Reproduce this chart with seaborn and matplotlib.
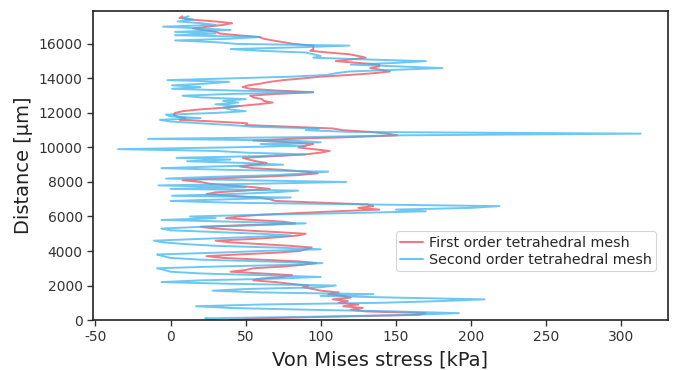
import matplotlib
matplotlib.use("Agg")
import matplotlib.pyplot as plt
import seaborn as sns
import pandas as pd

distance = [
    0, 100, 200, 300, 400, 500, 600, 700, 800, 900,
    1000, 1100, 1200, 1300, 1400, 1500, 1600, 1700, 1800, 1900,
    2000, 2100, 2200, 2300, 2400, 2500, 2600, 2700, 2800, 2900,
    3000, 3100, 3200, 3300, 3400, 3500, 3600, 3700, 3800, 3900,
    4000, 4100, 4200, 4300, 4400, 4500, 4600, 4700, 4800, 4900,
    5000, 5100, 5200, 5300, 5400, 5500, 5600, 5700, 5800, 5900,
    6000, 6100, 6200, 6300, 6400, 6500, 6600, 6700, 6800, 6900,
    7000, 7100, 7200, 7300, 7400, 7500, 7600, 7700, 7800, 7900,
    8000, 8100, 8200, 8300, 8400, 8500, 8600, 8700, 8800, 8900,
    9000, 9100, 9200, 9300, 9400, 9500, 9600, 9700, 9800, 9900,
    10000, 10100, 10200, 10300, 10400, 10500, 10600, 10700, 10800, 10900,
    11000, 11100, 11200, 11300, 11400, 11500, 11600, 11700, 11800, 11900,
    12000, 12100, 12200, 12300, 12400, 12500, 12600, 12700, 12800, 12900,
    13000, 13100, 13200, 13300, 13400, 13500, 13600, 13700, 13800, 13900,
    14000, 14100, 14200, 14300, 14400, 14500, 14600, 14700, 14800, 14900,
    15000, 15100, 15200, 15300, 15400, 15500, 15600, 15700, 15800, 15900,
    16000, 16100, 16200, 16300, 16400, 16500, 16600, 16700, 16800, 16900,
    17000, 17100, 17200, 17300, 17400, 17500, 17600,
]

first_order = [
    39, 60, 110, 165, 170, 130, 120, 128, 115, 125,
    112, 118, 108, 120, 115, 105, 112, 100, 95, 88,
    92, 80, 70, 55, 60, 75, 81, 60, 40, 50,
    55, 75, 88, 97, 85, 60, 35, 24, 45, 70,
    86, 90, 94, 80, 60, 40, 30, 55, 72, 85,
    90, 70, 48, 30, 20, 50, 83, 75, 55, 37,
    45, 60, 85, 110, 139, 125, 135, 131, 100, 70,
    66, 58, 40, 24, 30, 50, 66, 55, 40, 26,
    20, 8, 30, 60, 85, 98, 90, 75, 55, 46,
    55, 64, 57, 52, 48, 70, 90, 100, 106, 95,
    85, 90, 95, 80, 55, 80, 120, 151, 145, 133,
    115, 108, 80, 50, 51, 30, 6, 10, 4, 2,
    3, 8, 19, 35, 46, 58, 68, 62, 61, 55,
    53, 70, 95, 70, 53, 48, 52, 60, 66, 75,
    88, 100, 119, 135, 146, 140, 133, 139, 139, 125,
    110, 120, 130, 125, 119, 105, 93, 95, 95, 95,
    82, 75, 68, 62, 59, 45, 33, 30, 22, 15,
    25, 35, 41, 30, 15, 6, 8,
]

second_order = [
    30, 23, 100, 160, 192, 150, 90, 40, 17, 60,
    140, 180, 209, 150, 100, 135, 60, 28, 50, 100,
    110, 40, -6, 20, 70, 100, 60, 20, 0, -4,
    -9, 30, 80, 101, 60, 20, 0, -5, -9, 30,
    60, 100, 70, 30, 10, -5, -11, 20, 50, 80,
    60, 30, 0, -6, 20, 60, 90, 40, -6, 30,
    13, 60, 120, 170, 150, 200, 219, 130, 40, 0,
    40, 80, 1, 40, 70, 85, 0, 50, -8, 60,
    117, 50, -3, 30, 70, 90, 105, 40, -6, 30,
    75, 50, 11, 40, 4, 60, 90, 50, 30, -35,
    37, 90, 60, 100, 80, -15, 90, 150, 313, 120,
    90, 99, 55, 40, 20, 0, -7, 20, 0, -3,
    30, 50, 40, 35, 46, 30, 45, 35, 50, 20,
    8, 40, 95, 40, 1, 20, 1, 24, 39, -2,
    40, 80, 104, 110, 119, 150, 181, 150, 120, 150,
    170, 130, 95, 100, 95, 90, 60, 40, 84, 119,
    44, 30, 3, 40, 60, 3, 30, 3, 40, 20,
    -5, 30, 20, 5, 15, 8, 12,
]

series_names = ["First order tetrahedral mesh", "Second order tetrahedral mesh"]
x_ticks = [-50, 0, 50, 100, 150, 200, 250, 300]
y_ticks = [0, 2000, 4000, 6000, 8000, 10000, 12000, 14000, 16000]

df = pd.concat([
    pd.DataFrame({"distance": distance, "stress": first_order, "mesh": series_names[0]}),
    pd.DataFrame({"distance": distance, "stress": second_order, "mesh": series_names[1]}),
], ignore_index=True)

sns.set_style("white")
plt.rcParams["font.family"] = ["DejaVu Sans"]

fig = plt.figure(figsize=(6.8, 3.7), dpi=100)
ax = fig.add_axes([0.137, 0.135, 0.845, 0.835])

palette = {series_names[0]: "#ee4c58", series_names[1]: "#3db5ee"}
sns.lineplot(data=df, x="stress", y="distance", hue="mesh", palette=palette,
             orient="y", sort=False, estimator=None, linewidth=1.4, alpha=0.75, ax=ax)

ax.set_xlim(-51.5, 331)
ax.set_ylim(0, 17900)
ax.set_xticks(x_ticks)
ax.set_xticklabels([str(v) for v in x_ticks])
ax.set_yticks(y_ticks)
ax.set_yticklabels([str(v) for v in y_ticks])
ax.tick_params(axis="both", direction="out", length=4, width=1, color="#333333",
               labelsize=10, labelcolor="#333333", left=True, bottom=True)
for s in ax.spines.values():
    s.set_color("#222222")
    s.set_linewidth(1.2)

ax.set_xlabel("Von Mises stress [kPa]", fontsize=14, color="#222222", labelpad=4)
ax.set_ylabel("Distance [µm]", fontsize=14, color="#222222", labelpad=4)

leg = ax.legend(loc="upper left", bbox_to_anchor=(0.527, 0.287), fontsize=10.3,
                frameon=True, handlelength=1.6, handletextpad=0.4, borderpad=0.3,
                labelspacing=0.2, borderaxespad=0.0)
leg.get_frame().set_edgecolor("#cccccc")
leg.get_frame().set_linewidth(0.8)
for line in leg.get_lines():
    line.set_linewidth(1.5)

fig.savefig("out.png", dpi=100)
